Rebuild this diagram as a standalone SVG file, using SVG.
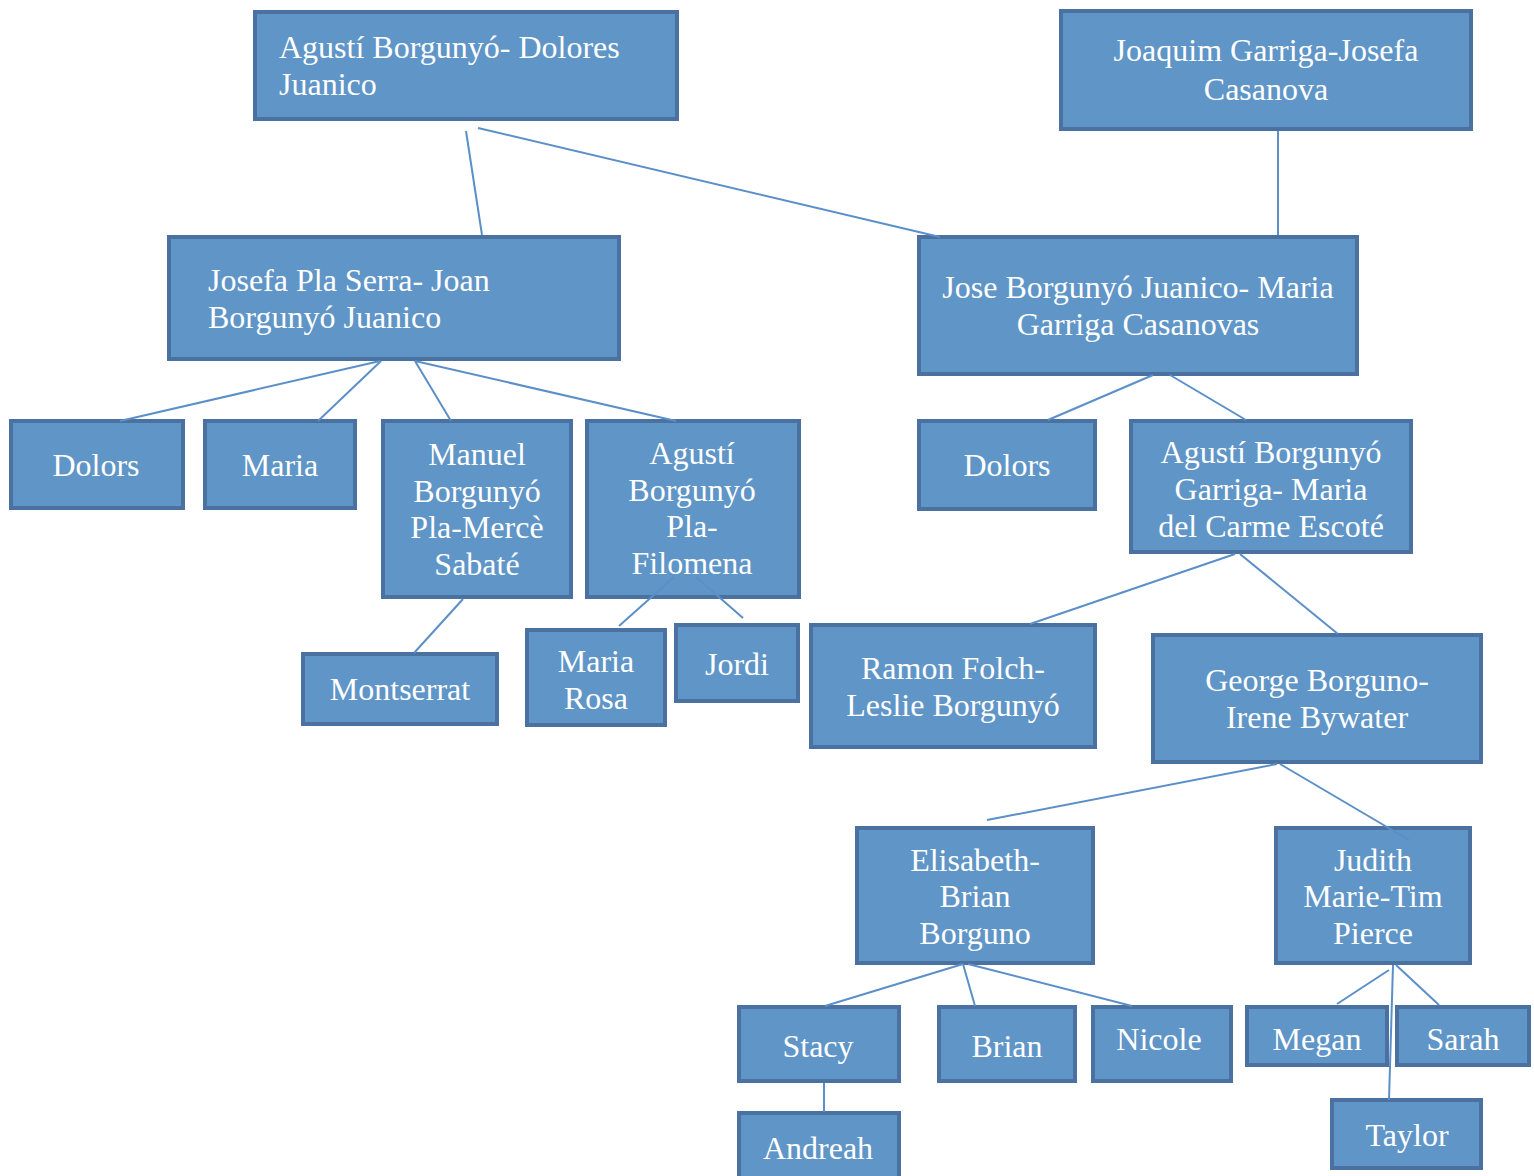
<svg xmlns="http://www.w3.org/2000/svg" width="1534" height="1176" viewBox="0 0 1534 1176">
<style>
.b{fill:#5f95c7;stroke:#4a71a0;stroke-width:4}
.t{font-family:"Liberation Serif","Times New Roman",serif;font-size:32px;fill:#ffffff}
.c{text-anchor:middle}
.l{stroke:#5b8fc8;stroke-width:2;fill:none}
</style>
<rect width="1534" height="1176" fill="#ffffff"/>
<g id="n1"><rect class="b" x="255" y="12" width="422" height="107"/><text class="t" x="279" y="58">Agustí Borgunyó- Dolores</text><text class="t" x="279" y="95">Juanico</text></g>
<g id="n2"><rect class="b" x="1061" y="11" width="410" height="118"/><text class="t c" x="1266" y="61">Joaquim Garriga-Josefa</text><text class="t c" x="1266" y="100">Casanova</text></g>
<g id="n3"><rect class="b" x="169" y="237" width="450" height="122"/><text class="t" x="208" y="291">Josefa Pla Serra- Joan</text><text class="t" x="208" y="328">Borgunyó Juanico</text></g>
<g id="n4"><rect class="b" x="919" y="237" width="438" height="137"/><text class="t c" x="1138" y="298">Jose Borgunyó Juanico- Maria</text><text class="t c" x="1138" y="335">Garriga Casanovas</text></g>
<g id="n5"><rect class="b" x="11" y="421" width="172" height="87"/><text class="t c" x="96" y="476">Dolors</text></g>
<g id="n6"><rect class="b" x="205" y="421" width="150" height="87"/><text class="t c" x="280" y="476">Maria</text></g>
<g id="n7"><rect class="b" x="383" y="421" width="188" height="176"/><text class="t c" x="477" y="465">Manuel</text><text class="t c" x="477" y="502">Borgunyó</text><text class="t c" x="477" y="538">Pla-Mercè</text><text class="t c" x="477" y="575">Sabaté</text></g>
<g id="n8"><rect class="b" x="587" y="421" width="212" height="176"/><text class="t c" x="692" y="464">Agustí</text><text class="t c" x="692" y="501">Borgunyó</text><text class="t c" x="692" y="537">Pla-</text><text class="t c" x="692" y="574">Filomena</text></g>
<g id="n9"><rect class="b" x="303" y="654" width="194" height="70"/><text class="t c" x="400" y="700">Montserrat</text></g>
<g id="n10"><rect class="b" x="527" y="630" width="138" height="95"/><text class="t c" x="596" y="672">Maria</text><text class="t c" x="596" y="709">Rosa</text></g>
<g id="n11"><rect class="b" x="676" y="625" width="122" height="76"/><text class="t c" x="737" y="675">Jordi</text></g>
<g id="n12"><rect class="b" x="919" y="421" width="176" height="88"/><text class="t c" x="1007" y="476">Dolors</text></g>
<g id="n13"><rect class="b" x="1131" y="421" width="280" height="131"/><text class="t c" x="1271" y="463">Agustí Borgunyó</text><text class="t c" x="1271" y="500">Garriga- Maria</text><text class="t c" x="1271" y="537">del Carme Escoté</text></g>
<g id="n14"><rect class="b" x="811" y="625" width="284" height="122"/><text class="t c" x="953" y="679">Ramon Folch-</text><text class="t c" x="953" y="716">Leslie Borgunyó</text></g>
<g id="n15"><rect class="b" x="1153" y="635" width="328" height="127"/><text class="t c" x="1317" y="691">George Borguno-</text><text class="t c" x="1317" y="728">Irene Bywater</text></g>
<g id="n16"><rect class="b" x="857" y="828" width="236" height="135"/><text class="t c" x="975" y="871">Elisabeth-</text><text class="t c" x="975" y="907">Brian</text><text class="t c" x="975" y="944">Borguno</text></g>
<g id="n17"><rect class="b" x="1276" y="828" width="194" height="135"/><text class="t c" x="1373" y="871">Judith</text><text class="t c" x="1373" y="907">Marie-Tim</text><text class="t c" x="1373" y="944">Pierce</text></g>
<g id="n18"><rect class="b" x="739" y="1007" width="160" height="74"/><text class="t c" x="818" y="1057">Stacy</text></g>
<g id="n19"><rect class="b" x="939" y="1007" width="136" height="74"/><text class="t c" x="1007" y="1057">Brian</text></g>
<g id="n20"><rect class="b" x="1093" y="1007" width="138" height="74"/><text class="t c" x="1159" y="1050">Nicole</text></g>
<g id="n21"><rect class="b" x="1247" y="1007" width="140" height="58"/><text class="t c" x="1317" y="1050">Megan</text></g>
<g id="n22"><rect class="b" x="1397" y="1007" width="132" height="58"/><text class="t c" x="1463" y="1050">Sarah</text></g>
<g id="n23"><rect class="b" x="739" y="1113" width="160" height="70"/><text class="t c" x="818" y="1159">Andreah</text></g>
<g id="n24"><rect class="b" x="1332" y="1100" width="149" height="68"/><text class="t c" x="1407" y="1146">Taylor</text></g>
<g id="connectors" class="l">
<line x1="466" y1="131" x2="482" y2="235"/>
<line x1="478" y1="128" x2="940" y2="237"/>
<line x1="1278" y1="131" x2="1278" y2="235"/>
<line x1="380" y1="361" x2="120" y2="421"/>
<line x1="381" y1="361" x2="318" y2="421"/>
<line x1="415" y1="361" x2="451" y2="421"/>
<line x1="415" y1="361" x2="676" y2="421"/>
<line x1="463" y1="599" x2="414" y2="653"/>
<line x1="674" y1="577" x2="619" y2="626"/>
<line x1="696" y1="577" x2="743" y2="618"/>
<line x1="1153" y1="375" x2="1048" y2="420"/>
<line x1="1170" y1="375" x2="1246" y2="420"/>
<line x1="1235" y1="554" x2="1030" y2="624"/>
<line x1="1240" y1="554" x2="1338" y2="634"/>
<line x1="1277" y1="764" x2="987" y2="820"/>
<line x1="1280" y1="764" x2="1409" y2="840"/>
<line x1="963" y1="964" x2="825" y2="1006"/>
<line x1="963" y1="964" x2="975" y2="1006"/>
<line x1="968" y1="964" x2="1132" y2="1006"/>
<line x1="1389" y1="970" x2="1337" y2="1004"/>
<line x1="1396" y1="965" x2="1439" y2="1005"/>
<line x1="1393" y1="965" x2="1389" y2="1100"/>
<line x1="824" y1="1083" x2="824" y2="1112"/>
</g>
</svg>
